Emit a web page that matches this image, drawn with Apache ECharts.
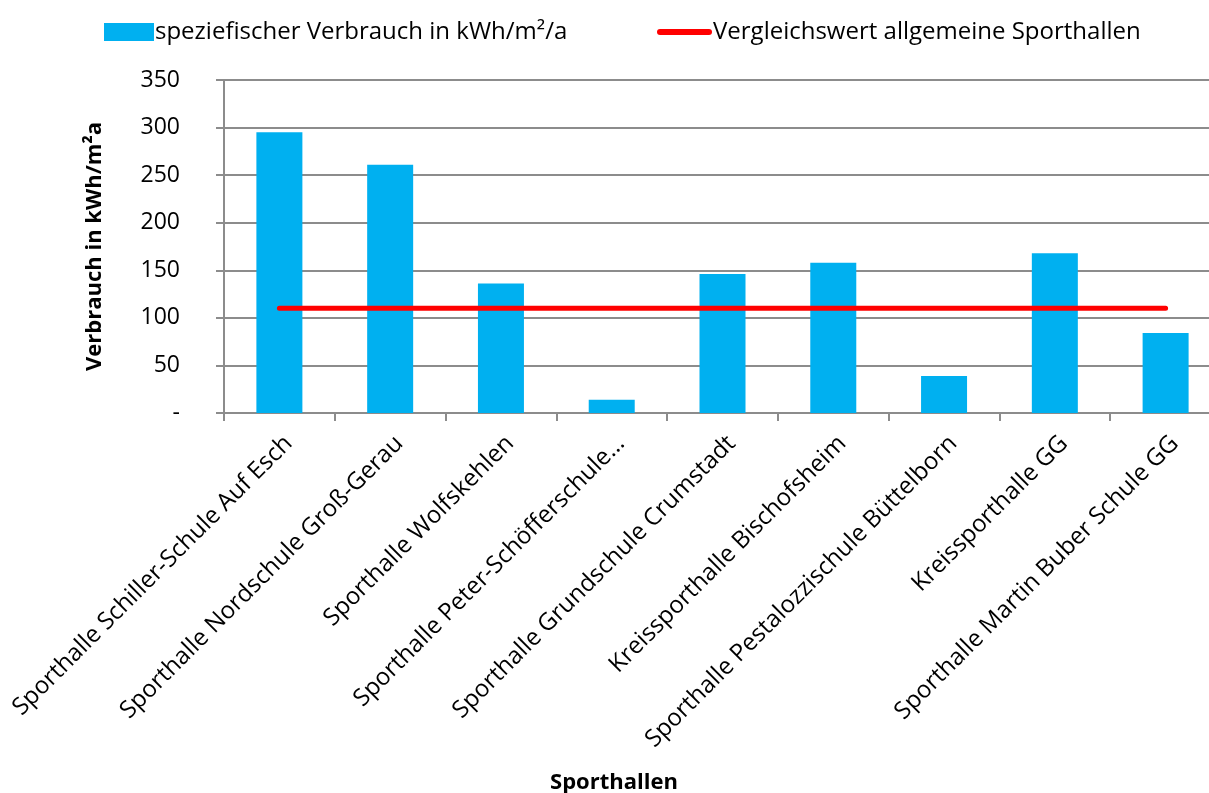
<!DOCTYPE html>
<html>
<head>
<meta charset="utf-8">
<script src="https://cdn.jsdelivr.net/npm/echarts@6/dist/echarts.min.js"></script>
<style>html,body{margin:0;padding:0;background:#fff;overflow:hidden;width:1209px;height:793px;}#c{width:1221px;height:793px;}</style>
</head>
<body>
<div id="c"></div>
<script>
const categories = [
  'Sporthalle Schiller-Schule Auf Esch',
  'Sporthalle Nordschule Groß-Gerau',
  'Sporthalle Wolfskehlen',
  'Sporthalle Peter-Schöfferschule…',
  'Sporthalle Grundschule Crumstadt',
  'Kreissporthalle Bischofsheim',
  'Sporthalle Pestalozzischule Büttelborn',
  'Kreissporthalle GG',
  'Sporthalle Martin Buber Schule GG'
];
const verbrauch = [295, 261, 136, 14, 146, 158, 39, 168, 84];
const vergleichswert = [110, 110, 110, 110, 110, 110, 110, 110, 110];
const barName = 'speziefischer Verbrauch in kWh/m²/a';
const lineName = 'Vergleichswert allgemeine Sporthallen';
const yAxisName = 'Verbrauch in kWh/m²a';
const xAxisName = 'Sporthallen';

const FONT = '"Open Sans", sans-serif';
const chart = echarts.init(document.getElementById('c'), null, {renderer: 'canvas'});
chart.setOption({
  animation: false,
  backgroundColor: '#ffffff',
  textStyle: {fontFamily: FONT},
  title: {
    text: xAxisName,
    left: 609, top: 767, textAlign: 'center',
    textStyle: {fontFamily: FONT, fontSize: 22, fontWeight: 'bold', color: '#000'}
  },
  legend: [
    {
      left: 104, top: 20, padding: 0, itemWidth: 50, itemHeight: 18, itemGap: 0,
      data: [{name: barName, icon: 'rect'}],
      textStyle: {fontFamily: FONT, fontSize: 24, color: '#000', padding: [0, 0, 0, -4]}
    },
    {
      left: 657, top: 20, padding: 0, itemWidth: 55, itemHeight: 18, itemGap: 0,
      data: [{name: lineName, icon: 'path://M3,0 L52,0 A3,3 0 0 1 52,6 L3,6 A3,3 0 0 1 3,0 Z', itemStyle: {color: '#FF0000'}}],
      textStyle: {fontFamily: FONT, fontSize: 24, color: '#000', padding: [0, 0, 0, -4]}
    }
  ],
  grid: {left: 224, right: 0, top: 80, bottom: 380, containLabel: false},
  xAxis: {
    type: 'category',
    data: categories,
    boundaryGap: true,
    axisLine: {show: true, lineStyle: {color: '#8c8c8c', width: 2}},
    axisTick: {show: true, length: 8, lineStyle: {color: '#8c8c8c', width: 2}},
    axisLabel: {
      rotate: 45, interval: 0, margin: 36,
      fontFamily: FONT, fontSize: 24, color: '#000',
      padding: [0, -13, 0, 0]
    }
  },
  yAxis: {
    type: 'value',
    min: 0, max: 350, interval: 50,
    name: yAxisName,
    nameLocation: 'middle',
    nameRotate: 90,
    nameGap: 118,
    nameTextStyle: {fontFamily: FONT, fontSize: 22, fontWeight: 'bold', color: '#000'},
    axisLine: {show: true, lineStyle: {color: '#8c8c8c', width: 2}},
    axisTick: {show: true, length: 8, lineStyle: {color: '#8c8c8c', width: 2}},
    splitLine: {show: true, lineStyle: {color: '#8c8c8c', width: 2}},
    axisLabel: {
      margin: 44,
      fontFamily: FONT, fontSize: 23, color: '#000',
      formatter: v => v === 0 ? '-' : String(v)
    }
  },
  series: [
    {
      name: barName, type: 'bar', data: verbrauch, barWidth: 46,
      itemStyle: {color: '#00B0F0'}, z: 2
    },
    {
      name: lineName, type: 'line', data: vergleichswert,
      symbol: 'none', z: 3,
      lineStyle: {color: '#FF0000', width: 5, cap: 'round'},
      itemStyle: {color: '#FF0000'}
    }
  ]
});
</script>
</body>
</html>
